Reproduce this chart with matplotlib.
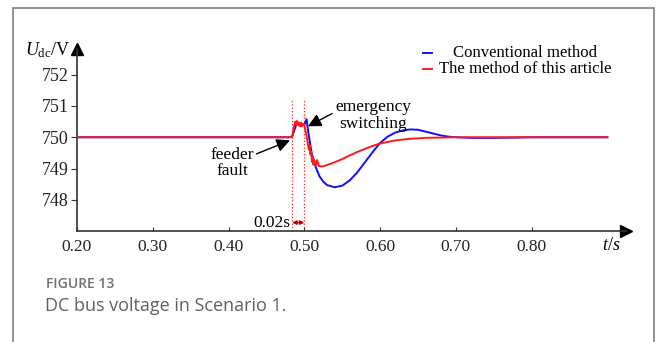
import numpy as np
import matplotlib.pyplot as plt
from matplotlib.lines import Line2D
from matplotlib.patches import Rectangle

plt.rcParams['font.family'] = ['Liberation Serif', 'DejaVu Serif']
plt.rcParams['mathtext.fontset'] = 'custom'
plt.rcParams['mathtext.rm'] = 'Liberation Serif'
plt.rcParams['mathtext.it'] = 'Liberation Serif:italic'

# DC bus voltage, proposed method (red)
t_red = [0.200, 0.480, 0.484, 0.486, 0.488, 0.489, 0.490, 0.491, 0.492, 0.493,
         0.494, 0.495, 0.496, 0.497, 0.498, 0.500, 0.502, 0.504, 0.506, 0.507,
         0.508, 0.509, 0.510, 0.511, 0.512, 0.513, 0.515, 0.517, 0.519, 0.522,
         0.525, 0.530, 0.540, 0.550, 0.560, 0.570, 0.580, 0.590, 0.600, 0.620,
         0.640, 0.660, 0.700, 0.900]
v_red = [750.00, 750.00, 750.02, 750.30, 750.50, 750.42, 750.52, 750.40, 750.48, 750.37,
         750.46, 750.35, 750.47, 750.36, 750.43, 750.40, 750.15, 749.90, 749.60, 749.75,
         749.45, 749.55, 749.22, 749.38, 749.12, 749.28, 749.10, 749.27, 749.08, 749.07,
         749.07, 749.11, 749.20, 749.30, 749.42, 749.53, 749.63, 749.72, 749.80, 749.90,
         749.95, 749.98, 750.00, 750.00]

# DC bus voltage, conventional method (blue)
t_blue = [0.200, 0.480, 0.484, 0.490, 0.500, 0.503, 0.505, 0.508, 0.510, 0.512,
          0.515, 0.520, 0.525, 0.530, 0.540, 0.550, 0.560, 0.570, 0.580, 0.590,
          0.600, 0.610, 0.620, 0.630, 0.640, 0.650, 0.660, 0.670, 0.680, 0.690,
          0.700, 0.720, 0.750, 0.780, 0.800, 0.900]
v_blue = [750.00, 750.00, 750.02, 750.45, 750.40, 750.58, 750.20, 749.75, 749.45, 749.30,
          749.05, 748.75, 748.58, 748.47, 748.40, 748.45, 748.62, 748.88, 749.20, 749.52,
          749.82, 750.02, 750.15, 750.22, 750.25, 750.24, 750.18, 750.12, 750.06, 750.02,
          750.00, 749.98, 749.98, 749.99, 750.00, 750.00]

t_fault = 0.484
t_switch = 0.500

x_ticks = [0.2, 0.3, 0.4, 0.5, 0.6, 0.7, 0.8]
x_labels = ['0.20', '0.30', '0.40', '0.50', '0.60', '0.70', '0.80']
y_ticks = [748, 749, 750, 751, 752]

fig = plt.figure(figsize=(6.56, 3.42), dpi=100)
ax = fig.add_axes([77 / 656, 111 / 342, 549 / 656, 182 / 342])
ax.set_xlim(0.2, 0.2 + 549 / 757.7)
ax.set_ylim(747, 747 + 182 / 31.25)

ax.plot(t_blue, v_blue, color='#1010ff', lw=1.4, zorder=3)
ax.plot(t_red, v_red, color='#ff1a1a', lw=1.4, zorder=4)

# fault / switching instants
for tv in (t_fault, t_switch):
    ax.plot([tv, tv], [747, 751.22], color='#ff1a1a', lw=0.9, ls=':', zorder=2)

ax.annotate('', xy=(t_fault, 747.27), xytext=(t_switch, 747.27),
            arrowprops=dict(arrowstyle='<|-|>', color='#b00000', lw=1.0,
                            shrinkA=0, shrinkB=0, mutation_scale=6))
ax.text(t_fault - 0.003, 747.27, '0.02s', ha='right', va='center', fontsize=12.5)

ax.annotate('feeder\nfault', xy=(0.481, 749.90), xytext=(0.4045, 749.17),
            ha='center', va='center', fontsize=12.5, linespacing=1.05,
            arrowprops=dict(arrowstyle='-|>', color='black', lw=1.0,
                            mutation_scale=20, shrinkA=0, shrinkB=0,
                            relpos=(1.0, 0.75)))
ax.annotate('emergency\nswitching', xy=(0.5047, 750.35), xytext=(0.5905, 750.70),
            ha='center', va='center', fontsize=12.5, linespacing=1.05,
            arrowprops=dict(arrowstyle='-|>', color='black', lw=1.0,
                            mutation_scale=20, shrinkA=0, shrinkB=0,
                            relpos=(0.0, 0.6)))

# axes with arrow heads
for s in ('top', 'right'):
    ax.spines[s].set_visible(False)
for s in ('left', 'bottom'):
    ax.spines[s].set_color('#333333')
    ax.spines[s].set_linewidth(1.2)
ax.plot(1, 0, marker='>', color='black', ms=9, transform=ax.transAxes, clip_on=False)
ax.plot(0, 1, marker='^', color='black', ms=9, transform=ax.transAxes, clip_on=False)

ax.set_xticks(x_ticks)
ax.set_xticklabels(x_labels)
ax.set_yticks(y_ticks)
ax.tick_params(axis='x', direction='in', length=3, width=0.8, pad=6,
               labelsize=12.5, colors='#333333', labelcolor='#222222')
ax.tick_params(axis='y', direction='out', length=4, width=0.8, pad=2,
               labelsize=13, colors='#333333', labelcolor='#222222')

fig.text(70 / 656, 1 - 50 / 342, r'$U_{\mathrm{dc}}$/V', ha='right', va='center',
         fontsize=13)
fig.text(611 / 656, 1 - 245 / 342, r'$t$/$s$', ha='center', va='center', fontsize=13)

# legend keys
fig.add_artist(Line2D([423 / 656, 432 / 656], [1 - 53 / 342] * 2, color='#1010ff', lw=1.4))
fig.add_artist(Line2D([423 / 656, 432 / 656], [1 - 69 / 342] * 2, color='#ff1a1a', lw=1.4))
fig.text(525 / 656, 1 - 53 / 342, 'Conventional method', ha='center', va='center', fontsize=12.1)
fig.text(525.5 / 656, 1 - 69 / 342, 'The method of this article', ha='center', va='center',
         fontsize=12.1)

# caption
fig.text(46 / 656, 1 - 284 / 342, 'FIGURE 13', ha='left', va='center', fontsize=10,
         family='Open Sans', weight='semibold', color='#707070')
fig.text(45 / 656, 1 - 306 / 342, 'DC bus voltage in Scenario 1.', ha='left', va='center',
         fontsize=13, family='Open Sans', color='#606060')

# frame around the figure panel
fig.add_artist(Rectangle((13 / 656, -0.1), (654 - 13) / 656, 1.1 - 8 / 342,
                         transform=fig.transFigure, fill=False, edgecolor='#8a8a8a',
                         lw=1.3))

fig.savefig('out.png', dpi=100)
